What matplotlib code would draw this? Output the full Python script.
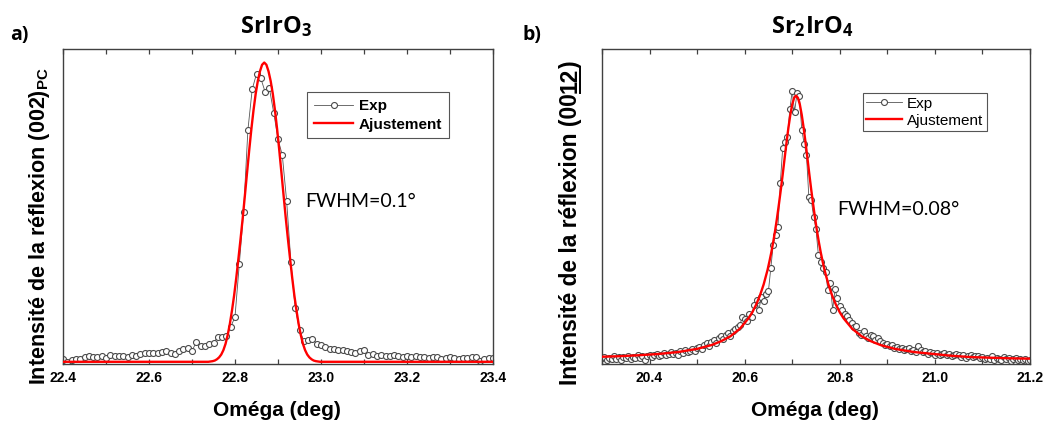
import matplotlib
matplotlib.use("Agg")
import matplotlib.pyplot as plt
import numpy as np
from matplotlib.ticker import MultipleLocator, FormatStrFormatter
from matplotlib.lines import Line2D

# ---------------- data (normalised intensity) ----------------
# Panel a) SrIrO3 : omega grid 22.40 .. 23.40 step 0.01
left_x = np.round(np.linspace(22.40, 23.40, 101), 3)
left_exp = [0.016, 0.005, 0.013, 0.016, 0.016, 0.021, 0.026, 0.021, 0.021, 0.026,
            0.019, 0.029, 0.024, 0.024, 0.026, 0.023, 0.029, 0.026, 0.032, 0.035,
            0.034, 0.035, 0.035, 0.037, 0.040, 0.035, 0.032, 0.042, 0.048, 0.051,
            0.042, 0.069, 0.058, 0.057, 0.063, 0.068, 0.085, 0.087, 0.089, 0.117,
            0.150, 0.317, 0.484, 0.743, 0.872, 0.921, 0.907, 0.864, 0.875, 0.798,
            0.714, 0.663, 0.519, 0.324, 0.178, 0.108, 0.073, 0.076, 0.080, 0.065,
            0.061, 0.053, 0.048, 0.048, 0.044, 0.044, 0.040, 0.037, 0.035, 0.040,
            0.044, 0.029, 0.032, 0.026, 0.029, 0.026, 0.026, 0.029, 0.026, 0.023,
            0.024, 0.023, 0.026, 0.021, 0.023, 0.019, 0.021, 0.023, 0.016, 0.019,
            0.021, 0.019, 0.016, 0.019, 0.019, 0.021, 0.023, 0.011, 0.016, 0.018, 0.019]

left_fit_x = [22.400, 22.600, 22.700, 22.738, 22.743, 22.748, 22.753, 22.758, 22.763,
              22.768, 22.773, 22.778, 22.783, 22.788, 22.793, 22.798, 22.803, 22.808,
              22.813, 22.818, 22.823, 22.828, 22.833, 22.838, 22.843, 22.848, 22.853,
              22.858, 22.863, 22.868, 22.873, 22.878, 22.883, 22.888, 22.893, 22.898,
              22.903, 22.908, 22.913, 22.918, 22.923, 22.928, 22.933, 22.938, 22.943,
              22.948, 22.953, 22.958, 22.963, 22.968, 22.973, 22.978, 22.983, 22.988,
              22.993, 22.998, 23.100, 23.400]
left_fit = [0.007, 0.007, 0.007, 0.007, 0.008, 0.009, 0.011, 0.015, 0.021,
            0.030, 0.044, 0.064, 0.092, 0.127, 0.170, 0.218, 0.274, 0.335,
            0.398, 0.464, 0.535, 0.607, 0.678, 0.745, 0.805, 0.857, 0.898,
            0.929, 0.950, 0.957, 0.950, 0.929, 0.898, 0.857, 0.805, 0.745,
            0.678, 0.607, 0.535, 0.464, 0.398, 0.335, 0.274, 0.218, 0.170,
            0.127, 0.092, 0.064, 0.044, 0.030, 0.021, 0.015, 0.011, 0.009,
            0.008, 0.007, 0.007, 0.007]

# Panel b) Sr2IrO4 : omega grid 20.300 .. 21.200 step 0.005
right_x = np.round(np.linspace(20.30, 21.20, 181), 3)
right_exp = [0.018, 0.022, 0.012, 0.020, 0.015, 0.024, 0.017, 0.021, 0.013, 0.022,
             0.019, 0.025, 0.016, 0.023, 0.020, 0.027, 0.018, 0.024, 0.014, 0.026,
             0.030,
             0.022, 0.028, 0.033, 0.026, 0.030, 0.035, 0.027, 0.032, 0.038, 0.031,
             0.036, 0.029, 0.040, 0.034, 0.044, 0.037, 0.042, 0.048, 0.041, 0.050,
             0.055, 0.049, 0.060, 0.066, 0.058, 0.070, 0.075, 0.068, 0.082, 0.088,
             0.079, 0.092, 0.097, 0.090, 0.105, 0.112, 0.118, 0.125, 0.148, 0.143,
             0.135, 0.158, 0.150, 0.188, 0.203, 0.172, 0.214, 0.200, 0.222, 0.232,
             0.305, 0.378, 0.410, 0.436, 0.575, 0.686, 0.706, 0.722, 0.808, 0.868,
             0.801, 0.859, 0.851,
             0.744, 0.700, 0.663, 0.529, 0.520, 0.468, 0.428, 0.346, 0.325, 0.304,
             0.293, 0.235, 0.256, 0.173, 0.237, 0.208, 0.185,
             0.172, 0.160, 0.151, 0.140, 0.130, 0.118, 0.121, 0.100, 0.093, 0.104,
             0.088, 0.083, 0.092, 0.088, 0.076, 0.081, 0.072, 0.066, 0.061, 0.064,
             0.056, 0.060, 0.051, 0.055, 0.047, 0.052, 0.044, 0.049, 0.051, 0.042,
             0.046, 0.039, 0.056, 0.044, 0.037, 0.042, 0.033, 0.038, 0.035, 0.030,
             0.036, 0.028, 0.033, 0.035, 0.027, 0.031, 0.024, 0.029, 0.033, 0.030,
             0.022, 0.027, 0.020, 0.025, 0.029, 0.021, 0.024, 0.026, 0.018, 0.023,
             0.015, 0.020, 0.017, 0.024, 0.014, 0.019, 0.016, 0.012, 0.021, 0.015,
             0.018, 0.011, 0.016, 0.020, 0.013, 0.017, 0.012, 0.015, 0.010, 0.014]

right_fit_x = [20.300, 20.340, 20.380, 20.420, 20.460, 20.500, 20.530, 20.550, 20.570,
               20.590, 20.608, 20.616, 20.624, 20.632, 20.640, 20.648, 20.652, 20.656,
               20.660, 20.664, 20.668, 20.672, 20.676, 20.680, 20.684, 20.688, 20.692,
               20.696, 20.700, 20.704, 20.708, 20.712, 20.716, 20.720, 20.724, 20.728,
               20.732, 20.736, 20.740, 20.744, 20.748, 20.752, 20.756, 20.760, 20.764,
               20.768, 20.776, 20.784, 20.792, 20.800, 20.808, 20.826, 20.846, 20.866,
               20.886, 20.916, 20.956, 20.996, 21.036, 21.076, 21.116, 21.160, 21.200]
right_fit = [0.023, 0.025, 0.028, 0.032, 0.038, 0.048, 0.060, 0.072, 0.088,
             0.112, 0.145, 0.164, 0.188, 0.217, 0.253, 0.298, 0.325, 0.354,
             0.387, 0.423, 0.463, 0.507, 0.553, 0.602, 0.653, 0.703, 0.750,
             0.791, 0.824, 0.845, 0.852, 0.845, 0.824, 0.791, 0.750, 0.703,
             0.653, 0.602, 0.553, 0.507, 0.463, 0.423, 0.387, 0.354, 0.325,
             0.298, 0.253, 0.217, 0.188, 0.164, 0.145, 0.112, 0.088, 0.072,
             0.060, 0.048, 0.038, 0.032, 0.026, 0.022, 0.020, 0.018, 0.017]

left_xlim = (22.4, 23.4)
right_xlim = (20.3, 21.2)

# ---------------- style ----------------
plt.rcParams['font.family'] = ['Liberation Sans', 'DejaVu Sans']
plt.rcParams['font.weight'] = 'bold'
plt.rcParams['mathtext.fontset'] = 'custom'
plt.rcParams['mathtext.rm'] = 'Liberation Sans'
plt.rcParams['mathtext.bf'] = 'Liberation Sans:bold'
plt.rcParams['mathtext.it'] = 'Liberation Sans:italic'
plt.rcParams['mathtext.sf'] = 'Open Sans:bold'

HEAD = ['Open Sans', 'DejaVu Sans']
ARIAL = ['Liberation Sans', 'DejaVu Sans']
CAL = ['Lato', 'DejaVu Sans']

W, H = 1046, 421
fig = plt.figure(figsize=(W / 100, H / 100), dpi=100)
axL = fig.add_axes([63 / W, 1 - 364 / H, 430 / W, 315 / H])
axR = fig.add_axes([602 / W, 1 - 364 / H, 428 / W, 315 / H])


def style_axis(ax, xlim):
    ax.set_xlim(*xlim)
    ax.set_ylim(0, 1)
    ax.set_yticks([])
    ax.xaxis.set_major_locator(MultipleLocator(0.2))
    ax.xaxis.set_minor_locator(MultipleLocator(0.1))
    ax.xaxis.set_major_formatter(FormatStrFormatter('%.1f'))
    ax.tick_params(axis='x', which='both', direction='in', top=True, bottom=True,
                   length=3.5, width=0.9, color='#404040', pad=5,
                   labelsize=10)
    for s in ax.spines.values():
        s.set_color('#404040')
        s.set_linewidth(1.0)


def plot_panel(ax, x, y, fx, fy, xlim):
    ax.plot(x, y, color='#555555', lw=0.6, marker='o', ms=4.3, mfc='white',
            mec='#4a4a4a', mew=0.8, label='Exp', zorder=2)
    ax.plot(fx, fy, color='#ff0000', lw=1.7, label='Ajustement', zorder=3)
    style_axis(ax, xlim)


plot_panel(axL, left_x, left_exp, left_fit_x, left_fit, left_xlim)
plot_panel(axR, right_x, right_exp, right_fit_x, right_fit, right_xlim)

legL = axL.legend(loc='upper left', bbox_to_anchor=(0.567, 0.863), borderaxespad=0,
                  frameon=True, fancybox=False, edgecolor='#555555', framealpha=1,
                  prop={'family': 'Liberation Sans', 'weight': 'bold', 'size': 11},
                  handlelength=2.6, handletextpad=0.35, borderpad=0.45, labelspacing=0.3,
                  numpoints=1)
legL.get_frame().set_linewidth(0.8)
legR = axR.legend(loc='upper left', bbox_to_anchor=(0.609, 0.861), borderaxespad=0,
                  frameon=True, fancybox=False, edgecolor='#555555', framealpha=1,
                  prop={'family': 'Liberation Sans', 'weight': 'normal', 'size': 11},
                  handlelength=2.3, handletextpad=0.35, borderpad=0.25, labelspacing=0.2,
                  numpoints=1)
legR.get_frame().set_linewidth(0.8)

axL.text(0.563, 0.498, 'FWHM=0.1°', transform=axL.transAxes, ha='left', va='baseline',
         fontsize=14, family=CAL, fontweight='normal')
axR.text(0.549, 0.473, 'FWHM=0.08°', transform=axR.transAxes, ha='left', va='baseline',
         fontsize=14, family=CAL, fontweight='normal')

# titles and panel letters
fig.text(276 / W, 1 - 33 / H, r'SrIrO$_{\mathsf{3}}$', ha='center', va='baseline', fontsize=17,
         family=HEAD, fontweight='bold')
fig.text(812 / W, 1 - 33 / H, r'Sr$_{\mathsf{2}}$IrO$_{\mathsf{4}}$', ha='center',
         va='baseline', fontsize=17, family=HEAD, fontweight='bold')
fig.text(10 / W, 1 - 40 / H, 'a)', ha='left', va='baseline', fontsize=14, family=HEAD,
         fontweight='bold')
fig.text(523 / W, 1 - 40 / H, 'b)', ha='left', va='baseline', fontsize=14, family=HEAD,
         fontweight='bold')

# axis labels
fig.text(277 / W, 1 - 416 / H, 'Oméga (deg)', ha='center', va='baseline', fontsize=15,
         family=ARIAL, fontweight='bold')
fig.text(815 / W, 1 - 416 / H, 'Oméga (deg)', ha='center', va='baseline', fontsize=15,
         family=ARIAL, fontweight='bold')

lab_kw = dict(rotation=90, rotation_mode='anchor', ha='left', va='baseline',
              family=ARIAL, fontweight='bold')
fig.text(44.5 / W, 1 - 385 / H, r'Intensité de la réflexion (002)$_{\mathbf{PC}}$',
         fontsize=15.5, **lab_kw)

# right y label: "(00" + underlined "12" + ")"
RFS = 16.4
xb, y0 = 577, 385
t1 = fig.text(xb / W, 1 - y0 / H, 'Intensité de la réflexion (00', fontsize=RFS, **lab_kw)
fig.canvas.draw()
r = fig.canvas.get_renderer()
h1 = t1.get_window_extent(r).height
t2 = fig.text(xb / W, (H - y0 + h1) / H, '12', fontsize=RFS, **lab_kw)
fig.canvas.draw()
h2 = t2.get_window_extent(r).height
t3 = fig.text(xb / W, (H - y0 + h1 + h2) / H, ')', fontsize=RFS, **lab_kw)
ul_x = (xb + 2.6) / W
fig.add_artist(Line2D([ul_x, ul_x], [(H - y0 + h1 + 0.5) / H, (H - y0 + h1 + h2 - 0.5) / H],
                      transform=fig.transFigure, color='black', lw=1.4))

fig.savefig('out.png', dpi=100)
